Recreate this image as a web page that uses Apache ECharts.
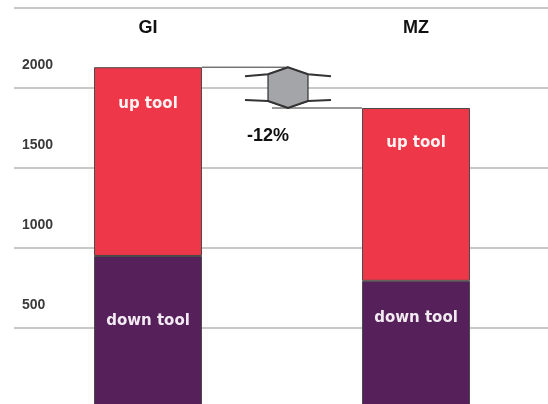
<!DOCTYPE html>
<html>
<head>
<meta charset="utf-8">
<script src="https://cdn.jsdelivr.net/npm/echarts@6/dist/echarts.min.js"></script>
<style>
html,body{margin:0;padding:0;background:#fff;}
#c{width:548px;height:404px;}
</style>
</head>
<body>
<div id="c"></div>
<script>
const categories = ['GI', 'MZ'];
const downTool = [950, 795];
const upTool = [1180, 1080];
const yTickLabels = ['500', '1000', '1500', '2000'];
const changeLabel = '-12%';

const chart = echarts.init(document.getElementById('c'), null, {renderer: 'canvas'});

const upDist = [29, 28];
const downDist = [58, 30];

const option = {
  animation: false,
  backgroundColor: '#ffffff',
  grid: {left: 14, right: -2, top: 8, bottom: -4, containLabel: false, outerBoundsMode: 'none'},
  xAxis: {
    type: 'category',
    position: 'top',
    data: categories,
    axisLine: {show: false},
    axisTick: {show: false},
    axisLabel: {
      inside: true, margin: 11,
      fontFamily: 'Liberation Sans, Arial, sans-serif',
      fontSize: 18, fontWeight: 'bold', color: '#111'
    }
  },
  yAxis: {
    type: 'value',
    min: 0, max: 2500, interval: 500,
    axisLine: {show: false},
    axisTick: {show: false},
    splitLine: {show: true, lineStyle: {color: '#c8c8c8', width: 2}},
    axisLabel: {
      inside: true, margin: 8,
      align: 'left', verticalAlign: 'bottom',
      lineHeight: 46,
      fontFamily: 'Liberation Sans, Arial, sans-serif',
      fontSize: 14, fontWeight: 'bold', color: '#3a3a3a',
      formatter: function (v) {
        const s = String(v);
        return yTickLabels.indexOf(s) >= 0 ? s : '';
      }
    }
  },
  series: [
    {
      name: 'down tool', type: 'bar', stack: 'total', barWidth: 108,
      itemStyle: {color: '#56205A', borderColor: '#4a4a4a', borderWidth: 1},
      data: downTool.map((v, i) => ({
        value: v,
        label: {
          show: true, position: 'insideTop', distance: downDist[i],
          formatter: 'down tool', color: '#f2eaf2',
          fontFamily: 'DejaVu Sans, sans-serif', fontSize: 15, fontWeight: 'bold'
        }
      }))
    },
    {
      name: 'up tool', type: 'bar', stack: 'total', barWidth: 108,
      itemStyle: {color: '#EE3748', borderColor: '#4a4a4a', borderWidth: 1},
      data: upTool.map((v, i) => ({
        value: v,
        label: {
          show: true, position: 'insideTop', distance: upDist[i],
          formatter: 'up tool', color: '#fff2f2',
          fontFamily: 'DejaVu Sans, sans-serif', fontSize: 15, fontWeight: 'bold'
        }
      }))
    }
  ]
};
chart.setOption(option);

// annotation: difference arrow between totals
const totals = categories.map((c, i) => downTool[i] + upTool[i]);
const yTop = chart.convertToPixel({yAxisIndex: 0}, totals[0]);
const yBot = chart.convertToPixel({yAxisIndex: 0}, totals[1]);
const x0 = chart.convertToPixel({xAxisIndex: 0}, categories[0]);
const x1 = chart.convertToPixel({xAxisIndex: 0}, categories[1]);
const half = 54;
const xm = (x0 + x1) / 2 + 6;
const hw = 20, ww = 43, hd = 7;

chart.setOption({
  graphic: [
    {type: 'line', z: 100, shape: {x1: x0 + half, y1: yTop, x2: xm, y2: yTop}, style: {stroke: '#333', lineWidth: 1}},
    {type: 'line', z: 100, shape: {x1: xm - 16, y1: yBot, x2: x1 - half, y2: yBot}, style: {stroke: '#333', lineWidth: 1}},
    {type: 'polygon', z: 101, shape: {points: [
      [xm, yTop], [xm + hw, yTop + hd], [xm + hw, yBot - hd], [xm, yBot], [xm - hw, yBot - hd], [xm - hw, yTop + hd]
    ]}, style: {fill: '#a3a5a8', stroke: '#333', lineWidth: 1.2}},
    {type: 'polyline', z: 102, shape: {points: [
      [xm - ww, yTop + hd + 2], [xm - hw, yTop + hd], [xm, yTop], [xm + hw, yTop + hd], [xm + ww, yTop + hd + 2]
    ]}, style: {stroke: '#333', lineWidth: 2, fill: null}},
    {type: 'polyline', z: 102, shape: {points: [
      [xm - ww, yBot - hd - 1], [xm - hw, yBot - hd], [xm, yBot], [xm + hw, yBot - hd], [xm + ww, yBot - hd - 1]
    ]}, style: {stroke: '#333', lineWidth: 2, fill: null}},
    {type: 'text', z: 103, x: xm - 20, y: yBot + 28, style: {
      text: changeLabel, fill: '#111', align: 'center', verticalAlign: 'middle',
      font: 'bold 18px "Liberation Sans", Arial, sans-serif'
    }}
  ]
});
</script>
</body>
</html>
